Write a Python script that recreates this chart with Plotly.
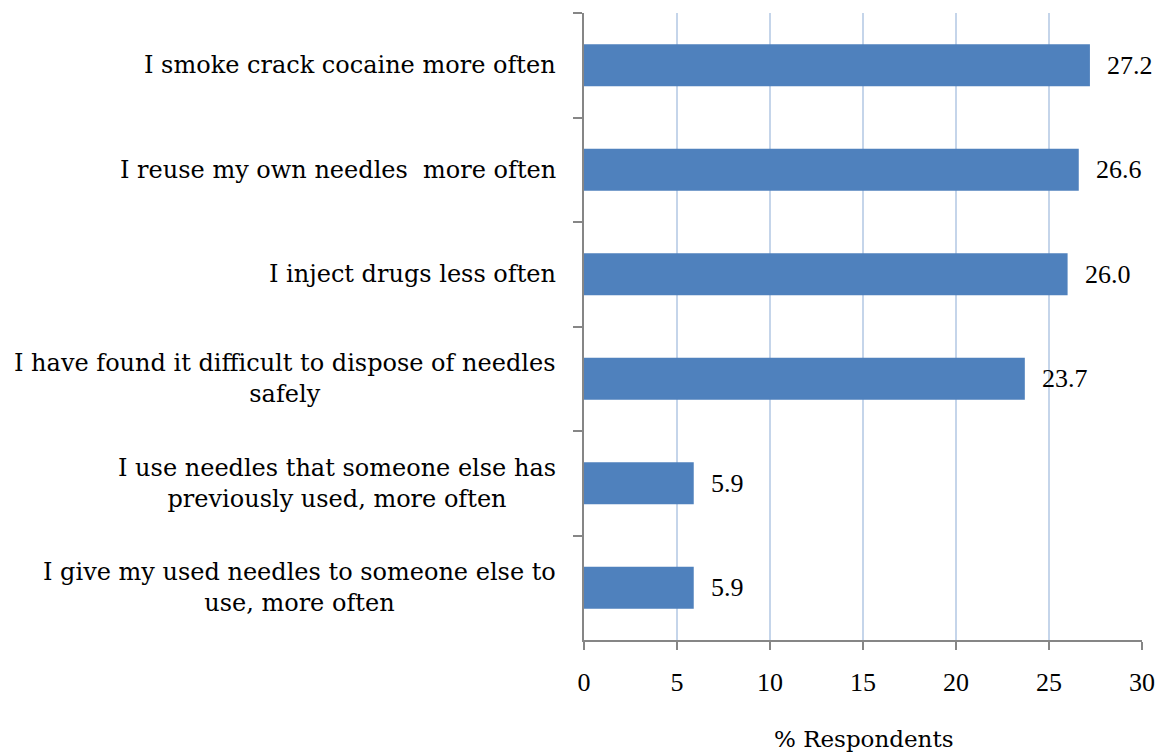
import plotly.graph_objects as go

# Survey responses (top to bottom)
categories = [
    "I smoke crack cocaine more often",
    "I reuse my own needles  more often",
    "I inject drugs less often",
    "I have found it difficult to dispose of needles<br>safely",
    "I use needles that someone else has<br>previously used, more often",
    "I give my used needles to someone else to<br>use, more often",
]
values = [27.2, 26.6, 26.0, 23.7, 5.9, 5.9]
x_ticks = [0, 5, 10, 15, 20, 25, 30]
x_title = "% Respondents"

FONT = "DejaVu Serif"
NUM_FONT = "Liberation Serif"
BAR = "#4f81bd"
AXIS = "#868686"
GRID = "#c5d5ea"

fig = go.Figure(
    go.Bar(
        x=values,
        y=categories,
        orientation="h",
        marker=dict(color=BAR, line=dict(width=0)),
        width=0.4,
        hoverinfo="skip",
    )
)

# Category labels: right-aligned block, lines centred within it
for cat in categories:
    fig.add_annotation(
        x=0, xref="paper", y=cat, yref="y",
        text=cat, showarrow=False,
        xanchor="right", yanchor="middle", align="center",
        xshift=-26,
        font=dict(family=FONT, size=24, color="#000000"),
    )

# Value labels at bar ends
for cat, v in zip(categories, values):
    fig.add_annotation(
        x=v, xref="x", y=cat, yref="y",
        text=f"{v:.1f}", showarrow=False,
        xanchor="left", yanchor="middle",
        xshift=15,
        font=dict(family=NUM_FONT, size=26, color="#000000"),
    )

# X-axis title below the tick labels
fig.add_annotation(
    x=0.5, xref="paper", y=0, yref="paper",
    text=x_title, showarrow=False,
    xanchor="center", yanchor="middle",
    yshift=-99,
    font=dict(family=FONT, size=23, color="#000000"),
)

fig.update_layout(
    width=1161, height=755,
    margin=dict(l=584, r=19, t=13, b=115),
    paper_bgcolor="white", plot_bgcolor="white",
    showlegend=False,
    font=dict(family=FONT, color="#000000"),
)

fig.update_xaxes(
    range=[0, 30],
    tickvals=x_ticks,
    ticktext=[str(t) for t in x_ticks],
    showgrid=True, gridcolor=GRID, gridwidth=1.5,
    zeroline=False,
    showline=True, linecolor=AXIS, linewidth=1.5,
    ticks="outside", ticklen=8, tickcolor=AXIS, tickwidth=1.5,
    ticklabelstandoff=10,
    tickfont=dict(family=NUM_FONT, size=26, color="#000000"),
    automargin=False,
    fixedrange=True,
)

fig.update_yaxes(
    categoryorder="array", categoryarray=categories,
    autorange="reversed",
    showticklabels=False,
    tickson="boundaries",
    ticks="outside", ticklen=9, tickcolor=AXIS, tickwidth=1.5,
    showgrid=False, zeroline=False,
    showline=True, linecolor=AXIS, linewidth=1.5,
    automargin=False,
    fixedrange=True,
)

fig.write_html("out.html")
